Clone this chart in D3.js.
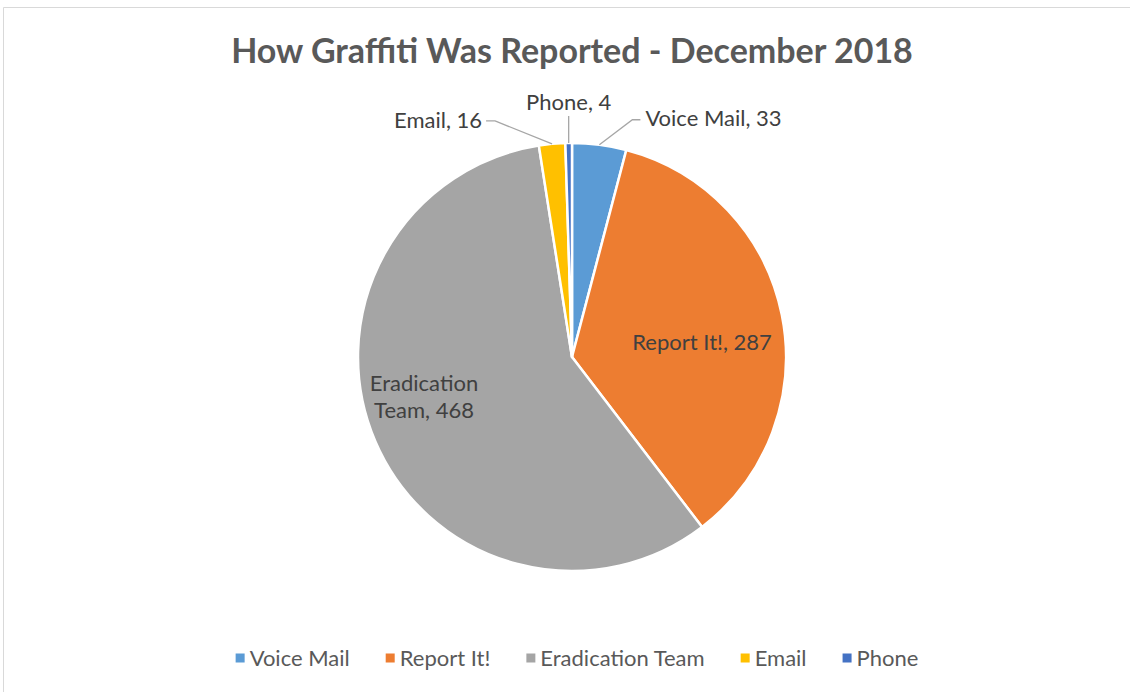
<!DOCTYPE html>
<html lang="en">
<head>
  <meta charset="UTF-8">
  <title>How Graffiti Was Reported - December 2018</title>
  <script src="https://d3js.org/d3.v7.min.js"></script>
  <style>
    body { margin: 0; background: #fff; }
    text { font-family: Lato, "Open Sans", sans-serif; }
  </style>
</head>
<body>
  <svg id="chart" width="1130" height="692"></svg>

  <script>
    // data
    const categories = ["Voice Mail", "Report It!", "Eradication Team", "Email", "Phone"];
    const counts = [33, 287, 468, 16, 4];
    const colors = ["#5B9BD5", "#ED7D31", "#A5A5A5", "#FFC000", "#4472C4"];
    const title = "How Graffiti Was Reported - December 2018";

    const width = 1130, height = 692;
    const cx = 572, cy = 357, radius = 214;

    const svg = d3.select("#chart");

    // chart frame (only top and left edges are in view)
    svg.append("path")
      .attr("d", `M3.5,${height} V7.5 H${width}`)
      .attr("fill", "none")
      .attr("stroke", "#d9d9d9")
      .attr("stroke-width", 1);

    svg.append("text")
      .attr("x", cx)
      .attr("y", 63)
      .attr("text-anchor", "middle")
      .attr("font-size", 34)
      .attr("font-weight", 700)
      .attr("fill", "#595959")
      .text(title);

    const data = categories.map((c, i) => ({ name: c, value: counts[i], color: colors[i] }));

    const pie = d3.pie().sort(null).value(d => d.value);
    const arc = d3.arc().innerRadius(0).outerRadius(radius);
    const arcs = pie(data);

    const g = svg.append("g").attr("transform", `translate(${cx},${cy})`);

    g.selectAll("path.slice")
      .data(arcs)
      .join("path")
      .attr("class", "slice")
      .attr("d", arc)
      .attr("fill", d => d.data.color)
      .attr("stroke", "#fff")
      .attr("stroke-width", 2.5)
      .attr("stroke-linejoin", "round");

    // label placement (Excel "best fit" style)
    const inside = {
      "Report It!": { r: 0.62, dx: 0, dy: 11 },
      "Eradication Team": { r: 0.62, dx: -26, dy: -12, lines: ["Eradication", "Team, 468"] }
    };
    const outside = {
      "Voice Mail": { ex: 33, ey: -25, hx: 8, anchor: "start" },
      "Email": { ex: -57, ey: -23, hx: -9, anchor: "end" },
      "Phone": { ex: 0, ey: -27, hx: 0, anchor: "middle" }
    };

    const mid = d => (d.startAngle + d.endAngle) / 2;
    const labelSize = 22;

    arcs.forEach(d => {
      const name = d.data.name;
      const a = mid(d);
      if (inside[name]) {
        const o = inside[name];
        const x = Math.sin(a) * radius * o.r + o.dx;
        const y = -Math.cos(a) * radius * o.r + o.dy;
        const lines = o.lines || [`${name}, ${d.data.value}`];
        const t = g.append("text")
          .attr("text-anchor", "middle")
          .attr("font-size", labelSize)
          .attr("fill", "#404040");
        lines.forEach((ln, i) => {
          t.append("tspan")
            .attr("x", x)
            .attr("y", y + (i - (lines.length - 1) / 2) * 27)
            .attr("dy", "0.35em")
            .text(ln);
        });
      } else if (outside[name]) {
        const o = outside[name];
        const px = Math.sin(a) * radius, py = -Math.cos(a) * radius;
        const ex = px + o.ex, ey = py + o.ey;
        const hx = ex + o.hx;
        g.append("polyline")
          .attr("points", [[px, py], [ex, ey], [hx, ey]].map(p => p.join(",")).join(" "))
          .attr("fill", "none")
          .attr("stroke", "#a6a6a6")
          .attr("stroke-width", 1.3);
        let tx = hx, ty = ey;
        if (o.anchor === "start") tx += 5;
        if (o.anchor === "end") tx -= 4;
        if (o.anchor === "middle") ty -= 13;
        g.append("text")
          .attr("x", tx)
          .attr("y", ty)
          .attr("dy", "0.3em")
          .attr("text-anchor", o.anchor)
          .attr("font-size", labelSize)
          .attr("fill", "#404040")
          .text(`${name}, ${d.data.value}`);
      }
    });

    // legend
    const legend = svg.append("g");
    const items = legend.selectAll("g")
      .data(data)
      .join("g");
    items.append("rect")
      .attr("width", 9)
      .attr("height", 9)
      .attr("y", -4.5)
      .attr("fill", d => d.color);
    items.append("text")
      .attr("x", 14)
      .attr("dy", "0.35em")
      .attr("font-size", 22)
      .attr("fill", "#595959")
      .text(d => d.name);

    const gap = 36;
    let xPos = 0;
    items.each(function () {
      const w = 14 + this.querySelector("text").getComputedTextLength();
      d3.select(this).attr("transform", `translate(${xPos},0)`);
      xPos += w + gap;
    });
    const total = xPos - gap;
    legend.attr("transform", `translate(${577 - total / 2},658)`);
  </script>
</body>
</html>
